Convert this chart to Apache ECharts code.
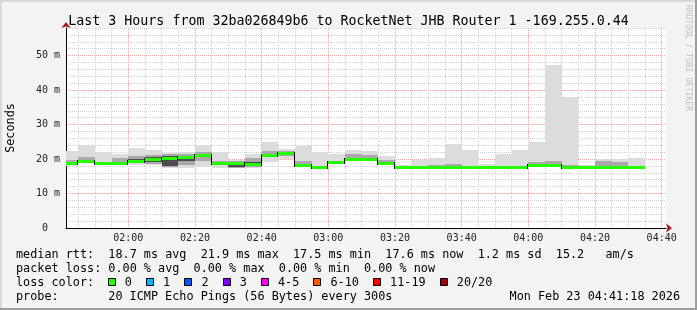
<!DOCTYPE html>
<html><head><meta charset="utf-8">
<script src="https://cdn.jsdelivr.net/npm/echarts@6/dist/echarts.min.js"></script>
<style>html,body{margin:0;padding:0;background:#f3f3f3}#c{width:697px;height:310px}</style>
</head><body><div id="c"></div>
<script>
// ---------- data ----------
const titleText = 'Last 3 Hours from 32ba026849b6 to RocketNet JHB Router 1 -169.255.0.44';
const rangeStart = '01:41:18';
const rangeEnd = '04:41:18';
const stepMinutes = 5;
const binStarts = ['01:40','01:45','01:50','01:55','02:00','02:05','02:10','02:15','02:20','02:25',
  '02:30','02:35','02:40','02:45','02:50','02:55','03:00','03:05','03:10','03:15',
  '03:20','03:25','03:30','03:35','03:40','03:45','03:50','03:55','04:00','04:05',
  '04:10','04:15','04:20','04:25','04:30'];
const median = [18.75,19.3,18.75,18.75,19.4,19.9,20.2,20.7,21.1,18.95,
  18.95,18.5,21.1,21.85,18.4,17.6,19.05,20.1,20.1,18.75,
  17.6,17.6,17.6,17.6,17.6,17.6,17.6,17.6,18.4,18.4,
  17.6,17.6,17.6,17.6,17.6];
const smokeMin = [18.0,18.9,18.5,18.5,18.4,18.3,17.4,17.5,17.6,17.4,
  17.4,17.4,19.0,20.0,18.4,17.3,18.9,19.8,19.8,18.4,
  17.3,17.3,17.3,17.3,17.3,17.3,17.3,17.3,18.1,18.1,
  17.3,17.3,17.3,17.3,17.3];
const smokeMax = [22.4,24.0,21.9,21.6,23.2,22.7,21.8,22.0,24.2,21.9,
  19.8,21.6,24.8,22.9,23.7,22.0,21.6,22.7,22.4,21.0,
  18.4,19.8,20.3,24.5,22.7,18.65,21.6,22.7,24.9,47.4,
  38.0,18.4,20.0,20.1,20.4];
const midLo = [18.4,19.0,18.6,18.6,18.8,18.6,17.6,18.4,19.5,18.3,
  17.5,17.6,20.5,21.0,18.6,17.4,19.0,20.0,20.0,18.5,
  null,17.4,17.4,17.5,17.4,null,17.4,17.4,18.3,18.3,
  17.4,null,17.4,17.4,17.4];
const midHi = [19.6,20.5,19.2,20.3,21.0,21.2,21.4,21.4,22.0,19.5,
  19.5,20.4,22.4,22.3,19.4,18.0,19.5,21.6,21.2,19.6,
  null,18.0,18.2,18.6,18.0,null,17.9,18.0,19.0,19.5,
  18.3,null,19.3,19.2,18.0];
const coreLo = [null,null,null,null,19.0,19.0,18.0,19.5,null,null,
  17.6,18.0,null,null,null,null,null,null,null,null,
  null,null,null,null,null,null,null,null,null,null,
  null,null,null,null,null];
const coreHi = [null,null,null,null,20.0,20.6,21.0,21.0,null,null,
  19.2,19.2,null,null,null,null,null,null,null,null,
  null,null,null,null,null,null,null,null,null,null,
  null,null,null,null,null];
const yMax = 58;
const yLabelValues = [0,10,20,30,40,50];
const xTickLabels = ['02:00','02:20','02:40','03:00','03:20','03:40','04:00','04:20','04:40'];
const rttStats = ['18.7 ms avg','21.9 ms max','17.5 ms min','17.6 ms now','1.2 ms sd'];
const amsValue = '15.2';
const lossStats = ['0.00 % avg','0.00 % max','0.00 % min','0.00 % now'];
const lossLabels = ['0','1','2','3','4-5','6-10','11-19','20/20'];
const lossColors = ['#26ff00','#00b8ff','#0059ff','#7e00ff','#ff00ff','#ff5500','#ff0000','#a00000'];
const probeText = '20 ICMP Echo Pings (56 Bytes) every 300s';
const dateText = 'Mon Feb 23 04:41:18 2026';

// ---------- helpers ----------
function toMin(t){ const p = t.split(':').map(Number); return p[0]*60 + p[1] + (p[2]||0)/60; }
function fmt(v){ const h = Math.floor(v/60), m = Math.round(v - h*60); return String(h).padStart(2,'0')+':'+String(m).padStart(2,'0'); }
const xMin = toMin(rangeStart), xMax = toMin(rangeEnd);
const majorX = xTickLabels.map(toMin);
const minorX = []; for (let v = Math.ceil(xMin/stepMinutes)*stepMinutes; v <= xMax; v += stepMinutes) if (v % 20 !== 0) minorX.push(v);
const majorY = [10,20,30,40,50];
const minorY = []; for (let v = 2; v <= yMax; v += 2) if (v % 10 !== 0) minorY.push(v);

const MONO = 'DejaVu Sans Mono';
const minorColor = '#d0d0d0';
const majorColor = '#efa3a3';
const smokeColors = ['#dcdcdc','#a9a9a9','#4c4c4c'];

const data = binStarts.map((t,i)=>[toMin(t), median[i], smokeMin[i], smokeMax[i]]);

function clip(r, cs){ return echarts.graphic.clipRectByRect(r, cs); }
function band(api, cs, x0, x1, lo, hi, color){
  if (lo == null || hi == null) return null;
  const a = api.coord([x0, hi]), b = api.coord([x1, lo]);
  const xa = Math.round(a[0]), xb = Math.round(b[0]);
  const ya = Math.round(a[1]), yb = Math.round(b[1]);
  const r = clip({x:xa, y:ya, width:xb-xa, height:Math.max(1,yb-ya)}, cs);
  return r ? {type:'rect', shape:r, style:{fill:color}} : null;
}
function renderSmoke(params, api){
  const i = params.dataIndex, cs = params.coordSys;
  const x0 = api.value(0), x1 = x0 + stepMinutes;
  const ch = [
    band(api, cs, x0, x1, api.value(2), api.value(3), smokeColors[0]),
    band(api, cs, x0, x1, midLo[i], midHi[i], smokeColors[1]),
    band(api, cs, x0, x1, coreLo[i], coreHi[i], smokeColors[2])
  ].filter(Boolean);
  return {type:'group', children:ch};
}
function renderMedian(params, api){
  const i = params.dataIndex, cs = params.coordSys;
  const x0 = api.value(0), x1 = x0 + stepMinutes, v = api.value(1);
  const a = api.coord([x0, v]), b = api.coord([x1, v]);
  const xa = Math.round(a[0]), xb = Math.round(b[0]), y = Math.round(a[1]);
  const ch = [];
  if (i > 0 && median[i-1] !== v) {
    const p = api.coord([x0, median[i-1]]);
    const yp = Math.round(p[1]);
    ch.push({type:'rect', shape:{x:xa-1, y:Math.min(yp,y)-1, width:1, height:Math.abs(yp-y)+3}, style:{fill:'#000'}});
  }
  const r = clip({x:xa, y:y-1, width:xb-xa, height:3}, cs);
  if (r) ch.push({type:'rect', shape:r, style:{fill:lossColors[0]}});
  return {type:'group', children:ch};
}

// ---------- legend graphics ----------
const CW = 7.1, FS = 11.8, LX = 16;
function txt(x, y, s, extra){ return Object.assign({type:'text', x, y, silent:true, style:{text:s, font:FS+'px '+MONO, fill:'#000', verticalAlign:'middle', align:'left'}}, extra||{}); }
const g = [];
// frame
g.push({type:'rect', shape:{x:0,y:0,width:697,height:2}, style:{fill:'#d8d8d8'}, silent:true});
g.push({type:'rect', shape:{x:0,y:0,width:2,height:310}, style:{fill:'#d8d8d8'}, silent:true});
g.push({type:'rect', shape:{x:0,y:308,width:697,height:2}, style:{fill:'#9c9c9c'}, silent:true});
g.push({type:'rect', shape:{x:695,y:0,width:2,height:310}, style:{fill:'#9c9c9c'}, silent:true});
let line1 = 'median rtt:  ' + rttStats.join('  ') + '  ' + amsValue + '   am/s';
g.push(txt(LX, 254.5, line1));
g.push(txt(LX, 268.5, 'packet loss: ' + lossStats.join('  ')));
g.push(txt(LX, 282.5, 'loss color:'));
let bx = LX + 13*CW - 0.5;
lossLabels.forEach((lab, k)=>{
  g.push({type:'rect', shape:{x:Math.round(bx)+0.5, y:278.5, width:7, height:7}, style:{fill:lossColors[k], stroke:'#000', lineWidth:1}, silent:true});
  g.push(txt(bx + 17, 282.5, lab));
  bx = bx + 17 + lab.length*CW + 2*CW;
});
g.push(txt(LX, 296.5, 'probe:'));
g.push(txt(LX + 13*CW, 296.5, probeText));
g.push(txt(680, 296.5, dateText, {style:{text:dateText, font:FS+'px '+MONO, fill:'#000', verticalAlign:'middle', align:'right'}}));
g.push({type:'text', x:688, y:5, rotation:-Math.PI/2, silent:true, style:{text:'RRDTOOL / TOBI OETIKER', font:'8px '+MONO, fill:'#c0c0c0', verticalAlign:'middle', align:'left'}});

const chart = echarts.init(document.getElementById('c'), null, {renderer:'canvas'});
const baseX = {type:'value', min:xMin, max:xMax, gridIndex:0, position:'bottom'};
const baseY = {type:'value', min:0, max:yMax, gridIndex:0, position:'left'};
chart.setOption({
  animation:false,
  backgroundColor:'#f3f3f3',
  title:{text:titleText, left:'center', top:10, textStyle:{fontFamily:MONO, fontSize:13.3, fontWeight:'normal', color:'#000'}},
  grid:{left:66, top:28, width:600, height:200, show:true, backgroundColor:'#ffffff', borderWidth:0, containLabel:false, outerBoundsMode:'none'},
  xAxis:[
    Object.assign({}, baseX, {
      axisLine:{show:true, onZero:false, lineStyle:{color:'#000', width:1}},
      axisTick:{show:false, customValues:majorX},
      axisLabel:{customValues:majorX, formatter:v=>fmt(v), fontFamily:MONO, fontSize:10, color:'#222', margin:5},
      splitLine:{show:true, lineStyle:{color:majorColor, width:1, type:[1,1]}}
    }),
    Object.assign({}, baseX, {
      axisLine:{show:false}, axisLabel:{show:false},
      axisTick:{show:false, customValues:minorX},
      splitLine:{show:true, lineStyle:{color:minorColor, width:1, type:[1,1]}}
    }),
    Object.assign({}, baseX, {
      axisLine:{show:true, onZero:false, symbol:['none','arrow'], symbolSize:[7,6], symbolOffset:[0,6], lineStyle:{color:'#a02020', width:0}},
      axisLabel:{show:false}, axisTick:{show:false}, splitLine:{show:false}
    })
  ],
  yAxis:[
    Object.assign({}, baseY, {
      name:'Seconds', nameLocation:'middle', nameGap:49, nameRotate:90,
      nameTextStyle:{fontFamily:MONO, fontSize:FS, color:'#000'},
      axisLine:{show:true, onZero:false, lineStyle:{color:'#000', width:1}},
      axisTick:{show:false, customValues:majorY},
      axisLabel:{customValues:yLabelValues, formatter:v=> v===0 ? '0  ' : v+' m', fontFamily:MONO, fontSize:10, color:'#222', margin:6},
      splitLine:{show:true, lineStyle:{color:majorColor, width:1, type:[1,1]}}
    }),
    Object.assign({}, baseY, {
      axisLine:{show:false}, axisLabel:{show:false},
      axisTick:{show:false, customValues:minorY},
      splitLine:{show:true, lineStyle:{color:minorColor, width:1, type:[1,1]}}
    }),
    Object.assign({}, baseY, {
      axisLine:{show:true, onZero:false, symbol:['none','arrow'], symbolSize:[7,6], symbolOffset:[0,6], lineStyle:{color:'#a02020', width:0}},
      axisLabel:{show:false}, axisTick:{show:false}, splitLine:{show:false}
    })
  ],
  series:[
    {type:'custom', name:'smoke', xAxisIndex:0, yAxisIndex:0, clip:true, renderItem:renderSmoke, data:data, z:2},
    {type:'custom', name:'median', xAxisIndex:0, yAxisIndex:0, clip:true, renderItem:renderMedian, data:data, z:3}
  ],
  graphic:g
});
</script></body></html>
